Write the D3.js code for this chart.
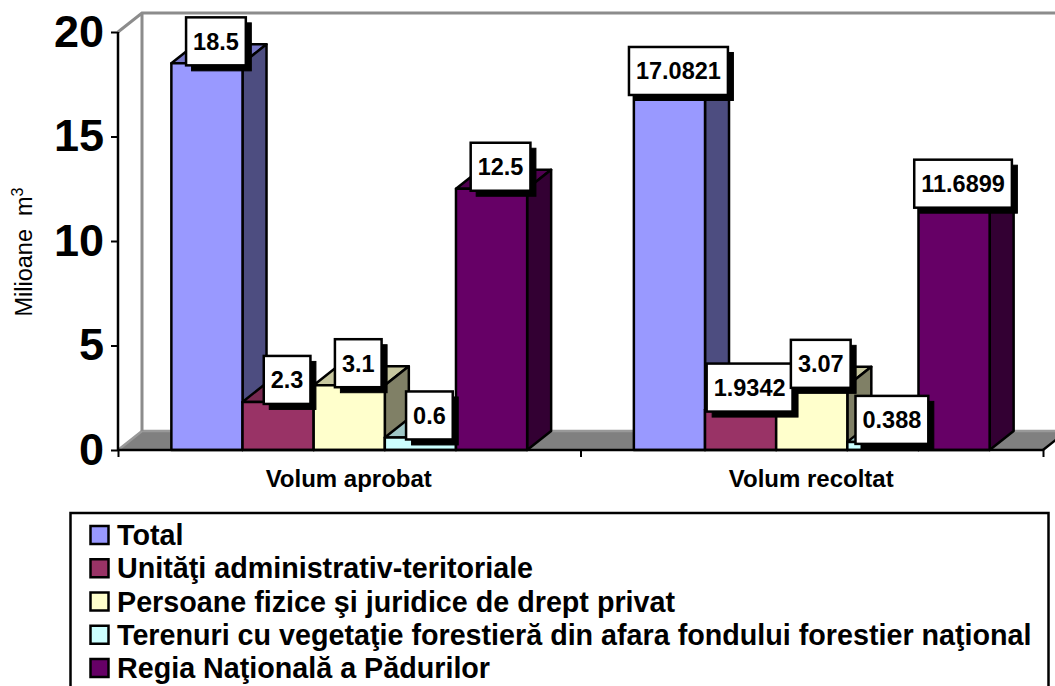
<!DOCTYPE html>
<html><head><meta charset="utf-8">
<script src="https://cdn.jsdelivr.net/npm/d3@7"></script>
<style>html,body{margin:0;padding:0;background:#fff;overflow:hidden}svg{display:block}text{font-family:"Liberation Sans",Arial,sans-serif}</style>
</head><body><script>
const categories = ["Volum aprobat", "Volum recoltat"];
const seriesNames = ["Total", "Unităţi administrativ-teritoriale", "Persoane fizice şi juridice de drept privat", "Terenuri cu vegetaţie forestieră din afara fondului forestier naţional", "Regia Naţională a Pădurilor"];
const seriesColors = ["#9999ff", "#993366", "#ffffcc", "#ccffff", "#660066"];
const volumAprobat = [18.5, 2.3, 3.1, 0.6, 12.5];
const volumRecoltat = [17.0821, 1.9342, 3.07, 0.388, 11.6899];
const valueLabels = [["18.5","2.3","3.1","0.6","12.5"],["17.0821","1.9342","3.07","0.388","11.6899"]];
const yTicks = [0, 5, 10, 15, 20];

const W = 1055, H = 686;
const dx = 24, dy = -19;
const svg = d3.select("body").append("svg").attr("width", W).attr("height", H);
const y = d3.scaleLinear().domain([0, 20]).range([450, 32]);
const x0 = d3.scaleBand().domain(categories).range([118, 1043]);
const x1 = d3.scaleBand().domain(d3.range(5)).range([0, x0.bandwidth()]).paddingOuter(0.75).paddingInner(0);
const shade = (c, k) => { const r = d3.rgb(c); return d3.rgb(r.r*k, r.g*k, r.b*k).formatHex(); };
const poly = pts => pts.map(p => p.join(",")).join(" ");

// walls
const grey = "#8c8c8c";
svg.append("polygon").attr("points", poly([[118, y(0)], [118+dx, y(0)+dy], [1043+dx, y(0)+dy], [1043, y(0)]]))
  .attr("fill", "#808080");
svg.append("path").attr("d", `M118,${y(0)}L${118+dx},${y(0)+dy}H${W+5}`).attr("fill", "none").attr("stroke", "#999").attr("stroke-width", 2.5);
svg.append("path").attr("d", `M1043,${y(0)}L${1043+dx},${y(0)+dy}`).attr("stroke", "#000").attr("stroke-width", 2.5);
svg.append("path").attr("d", `M118,${y(20)}L${118+dx},${y(20)+dy}H${W+5}M${118+dx},${y(20)+dy}V${y(0)+dy}`)
  .attr("fill", "none").attr("stroke", grey).attr("stroke-width", 3);

// bars
const data = [volumAprobat, volumRecoltat];
categories.forEach((c, i) => {
  const g = svg.append("g").attr("transform", `translate(${x0(c)},0)`);
  const bars = g.selectAll("g").data(data[i]).join("g");
  const st = s => s.attr("stroke", "#000").attr("stroke-width", 2.5).attr("stroke-linejoin", "round");
  bars.each(function (v, j) {
    const b = d3.select(this), l = x1(j), r = l + x1.bandwidth(), t = y(v), f = y(0), col = seriesColors[j];
    b.append("polygon").attr("points", poly([[l, t], [l+dx, t+dy], [r+dx, t+dy], [r, t]])).attr("fill", shade(col, 0.78)).call(st);
    b.append("polygon").attr("points", poly([[r, t], [r+dx, t+dy], [r+dx, f+dy], [r, f]])).attr("fill", shade(col, 0.5)).call(st);
    b.append("rect").attr("x", l).attr("y", t).attr("width", r-l).attr("height", f-t).attr("fill", col).call(st);
  });
});

// axes
const yAxis = d3.axisLeft(y).tickValues(yTicks).tickSize(7).tickPadding(7);
const gy = svg.append("g").attr("transform", "translate(118,0)").call(yAxis);
gy.select(".domain").attr("stroke", "#000").attr("stroke-width", 2.5).attr("d", `M0,${y(20)}V${y(0)}`);
gy.selectAll(".tick line").attr("stroke", "#000").attr("stroke-width", 2);
gy.selectAll("text").attr("font-size", 45).attr("font-weight", "bold").attr("fill", "#000").style("font-family", '"Liberation Sans",Arial,sans-serif');

const xAxis = d3.axisBottom(d3.scaleLinear().domain([0, 2]).range([118, 1043])).tickValues([0, 1, 2]).tickSize(7).tickFormat("");
const gx = svg.append("g").attr("transform", `translate(0,${y(0)})`).call(xAxis);
gx.select(".domain").attr("stroke", "#000").attr("stroke-width", 2.5).attr("d", "M118,0H1043");
gx.selectAll(".tick line").attr("stroke", "#000").attr("stroke-width", 2);

svg.selectAll(".cat").data(categories).join("text").attr("class", "cat")
  .attr("x", d => x0(d) + x0.bandwidth()/2 - 0.5).attr("y", 487).attr("text-anchor", "middle")
  .attr("font-size", 24).attr("font-weight", "bold").text(d => d);

svg.append("text").attr("transform", "translate(32,252) rotate(-90)").attr("text-anchor", "middle").attr("font-size", 23.5)
  .style("white-space", "pre").html('Milioane  m<tspan dy="-9" font-size="16">3</tspan>');

// value labels
categories.forEach((c, i) => {
  data[i].forEach((v, j) => {
    const cx = x0(c) + x1(j) + x1.bandwidth()/2 + 9, cy = y(v) - 22;
    const g = svg.append("g");
    const t = g.append("text").attr("x", cx).attr("y", cy + 8.5).attr("text-anchor", "middle").attr("font-size", 23.5).attr("font-weight", "bold").text(valueLabels[i][j]);
    const w = t.node().getComputedTextLength() + 14, h = 48;
    g.insert("rect", "text").attr("x", cx - w/2 + 5.5).attr("y", cy - h/2 + 5.5).attr("width", w).attr("height", h).attr("fill", "#000").attr("stroke", "#000").attr("stroke-width", 1);
    g.insert("rect", "text").attr("x", cx - w/2).attr("y", cy - h/2).attr("width", w).attr("height", h).attr("fill", "#fff").attr("stroke", "#000").attr("stroke-width", 2.5);
  });
});

// legend
const lg = svg.append("g");
lg.append("rect").attr("x", 70.5).attr("y", 513).attr("width", 978).attr("height", 190).attr("fill", "#fff").attr("stroke", "#000").attr("stroke-width", 2.5);
const ly = d3.scalePoint().domain(seriesNames).range([535, 668]);
seriesNames.forEach((n, j) => {
  lg.append("rect").attr("x", 90.5).attr("y", ly(n) - 9).attr("width", 18).attr("height", 18).attr("fill", seriesColors[j]).attr("stroke", "#000").attr("stroke-width", 2.5);
  lg.append("text").attr("x", 117).attr("y", ly(n) + 10).attr("font-size", 28.7).attr("font-weight", "bold").text(n);
});
</script></body></html>
